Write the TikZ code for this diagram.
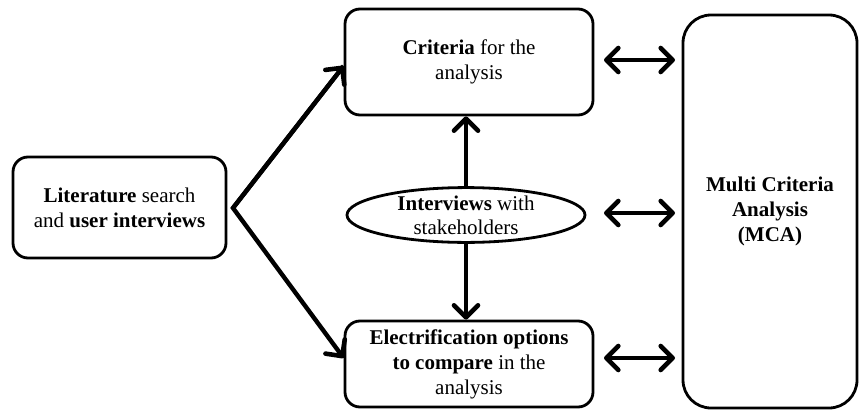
\documentclass[tikz,border=0pt]{standalone}
\usepackage{fontspec}
\setmainfont{Liberation Serif}
\usetikzlibrary{arrows.meta,shapes.geometric}
\begin{document}
\begin{tikzpicture}[x=1pt,y=-1pt,
  tip/.tip={Straight Barb[length=12pt,width=24pt,line width=4.6pt,round]},
  box/.style={draw,line width=2.8pt,rounded corners=15pt,align=center,inner sep=0pt,font=\fontsize{21}{25}\selectfont},
  oval/.style={draw,line width=2.8pt,ellipse,align=center,inner sep=0pt,font=\fontsize{21}{24}\selectfont},
  conn/.style={line width=4.4pt,-tip},
  dconn/.style={line width=4.4pt,tip-tip}]
\useasboundingbox (0,0) rectangle (866,412);
\node[box,minimum width=213pt,minimum height=101pt] (lit) at (119.5,207.5) {\textbf{Literature} search\\and \textbf{user interviews}};
\node[box,minimum width=248pt,minimum height=106pt] (crit) at (469,62) {\textbf{Criteria} for the\\analysis};
\node[box,minimum width=248pt,minimum height=86pt] (elec) at (469,364) {\textbf{Electrification options}\\\textbf{to compare} in the\\analysis};
\node[box,rounded corners=28pt,minimum width=174pt,minimum height=393pt] (mca) at (770,211.5) {\textbf{Multi Criteria}\\\textbf{Analysis}\\\textbf{(MCA)}};
\node[oval,minimum width=238pt,minimum height=50pt] (int) at (466,215) {\textbf{Interviews} with\\stakeholders};
\coordinate (fork) at (233,208);
\draw[conn,line join=miter] (crit.west |- 0,66) -- (fork) -- (elec.west |- 0,358);
\draw[conn] (fork) -- (crit.west |- 0,66);
\draw[conn] (int.north) -- (crit.south -| int.north);
\draw[conn] (int.south) -- (elec.north -| int.south);
\coordinate (a1) at (604,60); \coordinate (b1) at (675,60);
\coordinate (a2) at (604,213); \coordinate (b2) at (675,213);
\coordinate (a3) at (604,358); \coordinate (b3) at (675,358);
\draw[dconn] (a1) -- (b1);
\draw[dconn] (a2) -- (b2);
\draw[dconn] (a3) -- (b3);
\end{tikzpicture}
\end{document}
